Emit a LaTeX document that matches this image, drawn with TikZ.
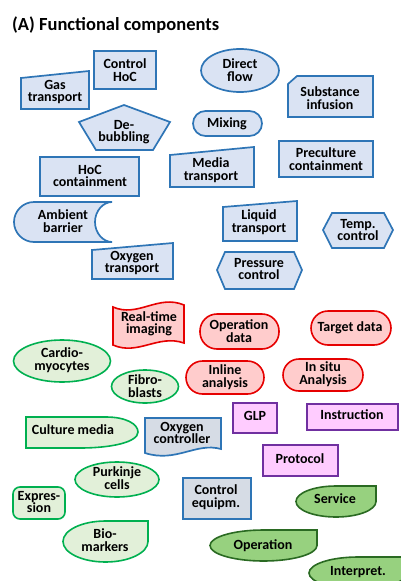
\documentclass[tikz,border=0pt]{standalone}
\usepackage{fontspec}
\setmainfont{Carlito}
\definecolor{blueF}{HTML}{DAE3F3}
\definecolor{blueD}{HTML}{2E75B6}
\definecolor{grayF}{HTML}{D6DCE5}
\definecolor{redF}{HTML}{FFCCCC}
\definecolor{redD}{HTML}{E60000}
\definecolor{greenF}{HTML}{E2F0D9}
\definecolor{greenD}{HTML}{00B050}
\definecolor{purpleF}{HTML}{FFCCFF}
\definecolor{purpleD}{HTML}{7030A0}
\definecolor{dgreenF}{HTML}{97D17F}
\definecolor{dgreenD}{HTML}{2A6A22}
\newcommand\tdrop[5]{%
  \pgfmathsetmacro\tdcx{(#2+#4)/2}\pgfmathsetmacro\tdcy{(#3+#5)/2}%
  \pgfmathsetmacro\tdkx{0.5523*(#4-#2)/2}\pgfmathsetmacro\tdky{0.5523*(#5-#3)/2}%
  \draw[#1] (\tdcx,#3) -- (#4,#3) -- (#4,\tdcy)
    .. controls (#4,\tdcy+\tdky) and (\tdcx+\tdkx,#5) .. (\tdcx,#5)
    .. controls (\tdcx-\tdkx,#5) and (#2,\tdcy+\tdky) .. (#2,\tdcy)
    .. controls (#2,\tdcy-\tdky) and (\tdcx-\tdkx,#3) .. (\tdcx,#3) -- cycle;}
\begin{document}
\begin{tikzpicture}[x=1pt,y=-1pt,
  lbl/.style={font=\fontsize{14}{#1}\selectfont\bfseries, align=center, inner sep=0pt, text=black},
  lbl/.default=12.5,
  bl/.style={draw=blueD, fill=blueF, line width=1.7pt},
  gb/.style={draw=blueD, fill=grayF, line width=1.7pt},
  rd/.style={draw=redD, fill=redF, line width=1.6pt},
  gr/.style={draw=greenD, fill=greenF, line width=1.6pt},
  pu/.style={draw=purpleD, fill=purpleF, line width=1.6pt},
  dg/.style={draw=dgreenD, fill=dgreenF, line width=1.6pt}]
\useasboundingbox (0,0) rectangle (401,581);
\begin{scope}
\clip (0,0) rectangle (401,581);
% title
\node[anchor=base west, font=\fontsize{18.5}{20}\selectfont\bfseries, inner sep=0pt] (title) at (12,30) {(A) Functional components};
% ---- blue
\draw[bl] (94,51) rectangle (156,89);
\node[lbl=13] (ctrlhoc) at (125,70) {Control\\HoC};
\draw[bl] (21,78) -- (89,71) -- (89,109) -- (21,109) -- cycle;
\node[lbl] (gas) at (55,92) {Gas\\transport};
\draw[bl] (124,105) -- (170,122) -- (153,150) -- (96,150) -- (79,122) -- cycle;
\node[lbl] (debub) at (124,132) {De-\\bubbling};
\draw[bl] (240,70.5) ellipse [x radius=39, y radius=21.5];
\node[lbl] (direct) at (240,70) {Direct\\flow};
\draw[bl] (297,76) -- (373,76) -- (373,117) -- (288,117) -- (288,84) -- cycle;
\node[lbl] (subst) at (330,98) {Substance\\infusion};
\draw[bl, rounded corners=12.5pt] (193,111) rectangle (262,136);
\node[lbl] (mixing) at (227,123.5) {Mixing};
\draw[bl] (279,141) rectangle (373,177);
\node[lbl] (precult) at (326,159) {Preculture\\containment};
\draw[bl] (170,155) -- (254,147) -- (254,187) -- (170,187) -- cycle;
\node[lbl] (media) at (211,170) {Media\\transport};
\draw[bl] (40,157) rectangle (139,196);
\node[lbl] (hoccont) at (90,176) {HoC\\containment};
\draw[bl] (112,202) -- (34,202) .. controls (23,202) and (14,211) .. (14,222)
  .. controls (14,233) and (23,242) .. (34,242) -- (112,242)
  .. controls (103,242) and (95,233) .. (95,222)
  .. controls (95,211) and (103,202) .. (112,202) -- cycle;
\node[lbl] (ambient) at (63,221) {Ambient\\barrier};
\draw[bl] (92,250) -- (173,243) -- (173,279) -- (92,279) -- cycle;
\node[lbl] (oxtrans) at (132,263) {Oxygen\\transport};
\draw[bl] (223,207) -- (297,201) -- (297,241) -- (223,241) -- cycle;
\node[lbl] (liquid) at (259,222) {Liquid\\transport};
\draw[bl] (323,230) -- (332,213) -- (384,213) -- (393,230) -- (384,248) -- (332,248) -- cycle;
\node[lbl] (temp) at (358,230) {Temp.\\control};
\draw[bl] (217,270) -- (225,252) -- (294,252) -- (302,270) -- (294,289) -- (225,289) -- cycle;
\node[lbl] (press) at (259,269) {Pressure\\control};
% ---- red
\draw[rd] (113,307) .. controls (138,318) and (158,294) .. (184,305) -- (184,343)
  .. controls (158,334) and (138,356) .. (113,345) -- cycle;
\node[lbl] (imaging) at (149,324) {Real-time\\imaging};
\draw[rd, rounded corners=17pt] (200,314) rectangle (279,349);
\node[lbl] (opdata) at (239,331) {Operation\\data};
\draw[rd, rounded corners=17pt] (311,311) rectangle (391,345);
\node[lbl] (target) at (350,328) {Target data};
\draw[rd, rounded corners=16.5pt] (186,361) rectangle (264,394);
\node[lbl] (inline) at (225,377) {Inline\\analysis};
\draw[rd, rounded corners=16pt] (283,359) rectangle (363,391);
\node[lbl] (insitu) at (323,374) {In situ\\Analysis};
% ---- light green
\draw[gr] (62,361) ellipse [x radius=48.5, y radius=21];
\node[lbl] (cardio) at (62,360) {Cardio-\\myocytes};
\draw[gr] (145,386.5) ellipse [x radius=33.5, y radius=16.5];
\node[lbl] (fibro) at (145,386) {Fibro-\\blasts};
\draw[gr] (26,417) -- (106,417) .. controls (126,417) and (138,424) .. (138,432)
  .. controls (138,442) and (112,448) .. (80,448) -- (26,448) -- cycle;
\node[lbl] (culture) at (73,430) {Culture media};
\draw[gr] (117,479.5) ellipse [x radius=42, y radius=17.5];
\node[lbl] (purkinje) at (117,478) {Purkinje\\cells};
\draw[gr, rounded corners=7pt] (13,487) rectangle (65,519);
\node[lbl] (expr) at (39,502) {Expres-\\sion};
\tdrop{gr}{63}{521}{148}{562}
\node[lbl] (bio) at (105,540) {Bio-\\markers};
% ---- gray-blue
\draw[gb] (145,418) -- (221,418) -- (221,449) .. controls (196,442) and (176,463) .. (145,453) -- cycle;
\node[lbl] (oxctrl) at (182,433) {Oxygen\\controller};
\draw[gb] (183,478) rectangle (251,519);
\node[lbl] (ctrlequip) at (216,497) {Control\\equipm.};
% ---- purple
\draw[pu] (233,403) rectangle (277,433);
\node[lbl] (glp) at (255,416) {GLP};
\draw[pu] (307,404) rectangle (398,430);
\node[lbl] (instr) at (352,415) {Instruction};
\draw[pu] (263,445) rectangle (338,476);
\node[lbl] (protocol) at (300,459) {Protocol};
% ---- dark green
\tdrop{dg}{296}{486}{376}{517}
\node[lbl] (service) at (335,499) {Service};
\tdrop{dg}{210}{530}{317}{561}
\node[lbl] (operation) at (263,545.5) {Operation};
\tdrop{dg}{309}{557}{407}{589}
\node[lbl] (interp) at (358,572) {Interpret.};
\end{scope}
\end{tikzpicture}
\end{document}
